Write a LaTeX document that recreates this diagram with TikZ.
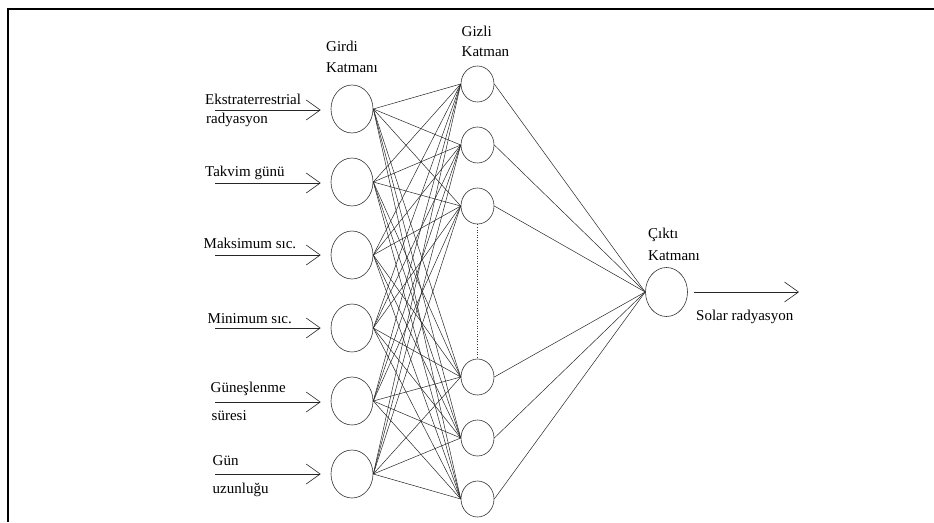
\documentclass[tikz,border=0pt]{standalone}
\usepackage{fontspec}
\setmainfont{Liberation Serif}
\usetikzlibrary{shapes.geometric,arrows.meta}
\begin{document}
\begin{tikzpicture}[x=1pt,y=-1pt,
  neuronin/.style={draw=black!80,line width=0.6pt,ellipse,minimum width=42pt,minimum height=48pt,inner sep=0pt},
  neuronhid/.style={draw=black!80,line width=0.6pt,ellipse,minimum width=33pt,minimum height=36pt,inner sep=0pt},
  neuronout/.style={draw=black!80,line width=0.6pt,ellipse,minimum width=42pt,minimum height=49pt,inner sep=0pt},
  link/.style={draw=black!85,line width=0.5pt},
  iarrow/.style={draw=black!85,line width=0.7pt,-{Straight Barb[length=14pt,width=20pt,line width=0.6pt]}},
  lbl/.style={anchor=base west,inner sep=0pt,font=\fontsize{15}{17}\selectfont},
  frame/.style={line width=2pt,draw=black}
]
\useasboundingbox (0,0) rectangle (934,522);
% frame
\draw[frame] (8,522) -- (8,9) -- (934,9);

% input neurons
\foreach \k/\y in {1/109,2/182,3/255,4/328,5/401,6/474}
  \node[neuronin] (i\k) at (352,\y) {};
% hidden neurons
\foreach \k/\y in {1/84,2/145,3/206,4/377,5/438,6/499}
  \node[neuronhid] (h\k) at (477.5,\y) {};
% output neuron
\node[neuronout] (o) at (666.5,292) {};

% connections
\foreach \a in {1,...,6}
  \foreach \b in {1,...,6}
    \draw[link] (i\a.east) -- (h\b.west);
\foreach \b in {1,...,6}
  \draw[link] (h\b.east) -- (o.west);

% dotted
\draw[black!80,line width=0.6pt,dotted] (h3.south) -- (h4.north);

% input arrows
\foreach \k/\y in {1/110,2/183,3/255,4/328,5/402,6/474}{
  \coordinate (s\k) at (215,\y);
  \draw[iarrow] (s\k) -- ([xshift=-10pt]i\k.west |- s\k);
}
% output arrow
\coordinate (t) at (799,292);
\draw[iarrow] ([xshift=6pt]o.east) -- (t);

% labels
\node[lbl] (l1a) at (205,104) {Ekstraterrestrial};
\node[lbl] (l1b) at (206,123.5) {radyasyon};
\node[lbl] (l2) at (205,176.5) {Takvim günü};
\node[lbl] (l3) at (203.5,248.5) {Maksimum sıc.};
\node[lbl] (l4) at (207.5,323.5) {Minimum sıc.};
\node[lbl] (l5a) at (210.5,392.5) {Güneşlenme};
\node[lbl] (l5b) at (211.5,420) {süresi};
\node[lbl] (l6a) at (212.5,465) {Gün};
\node[lbl] (l6b) at (212.5,493.5) {uzunluğu};

\node[lbl] (gi1) at (326,51.5) {Girdi};
\node[lbl] (gi2) at (326,72) {Katmanı};
\node[lbl] (gz1) at (461.5,36) {Gizli};
\node[lbl] (gz2) at (461.5,56) {Katman};
\node[lbl] (c1) at (648,238.5) {Çıktı};
\node[lbl] (c2) at (648,260) {Katmanı};
\node[lbl] (sr) at (696,320.5) {Solar radyasyon};
\end{tikzpicture}
\end{document}
